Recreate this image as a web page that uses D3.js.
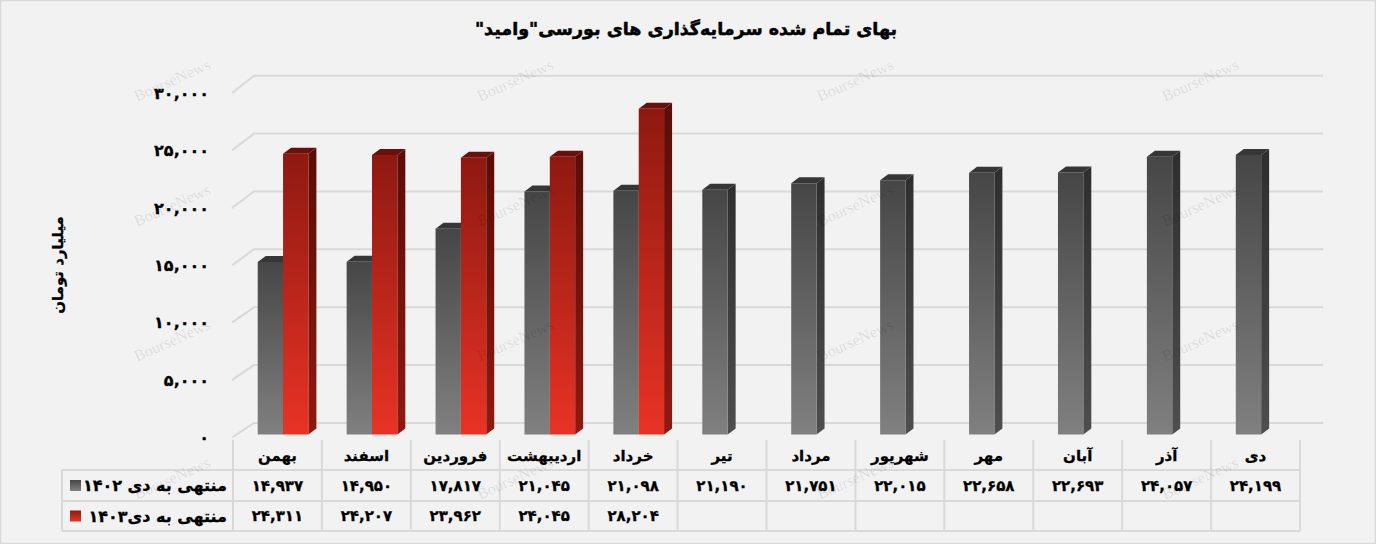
<!DOCTYPE html>
<html><head><meta charset="utf-8">
<script src="https://cdn.jsdelivr.net/npm/d3@7/dist/d3.min.js"></script>
<style>
html,body{margin:0;padding:0;background:#f2f2f2;}
svg{display:block;}
text{font-family:"DejaVu Sans",sans-serif;}
</style></head>
<body>
<svg id="chart" width="1376" height="544"></svg>
<script>
const categories = ["بهمن","اسفند","فروردین","اردیبهشت","خرداد","تیر","مرداد","شهریور","مهر","آبان","آذر","دی"];
const series1402 = [14937,14950,17817,21045,21098,21190,21751,22015,22658,22693,24057,24199];
const series1403 = [24311,24207,23962,24045,28204,null,null,null,null,null,null,null];
const seriesKeys = ["s1402","s1403"];
const seriesNames = ["منتهی به دی ۱۴۰۲","منتهی به دی۱۴۰۳"];
const yTicks = [0,5000,10000,15000,20000,25000,30000];
const titleText = "بهای تمام شده سرمایه‌گذاری های بورسی\"وامید\"";
const yTitle = "میلیارد تومان";

const faDigits = "۰۱۲۳۴۵۶۷۸۹";
const fmt = d3.format(",");
const toFa = v => fmt(v).replace(/[0-9]/g, d => faDigits[+d]);

const svg = d3.select("#chart");
const W = 1376, H = 544;

svg.append("rect").attr("x",0.5).attr("y",0.5).attr("width",W-1).attr("height",H-1)
  .attr("fill","#f2f2f2").attr("stroke","#d9d9d9").attr("stroke-width",1.5);

const defs = svg.append("defs");
function grad(id, c1, c2){
  const g = defs.append("linearGradient").attr("id",id).attr("x1",0).attr("y1",0).attr("x2",0).attr("y2",1);
  g.append("stop").attr("offset","0%").attr("stop-color",c1);
  g.append("stop").attr("offset","100%").attr("stop-color",c2);
}
grad("gFront","#464646","#808080");
grad("gSide","#2e2e2e","#4e4e4e");
grad("rFront","#8e1911","#e83325");
grad("rSide","#5a0d07","#8f1a11");
const caps = {s1402:"#363636", s1403:"#6a0f09"};
const fronts = {s1402:"url(#gFront)", s1403:"url(#rFront)"};
const sides = {s1402:"url(#gSide)", s1403:"url(#rSide)"};

// scales
const x = d3.scaleBand().domain(categories).range([233,1300]);
const bw = x.bandwidth();
const xSub = d3.scaleBand().domain(seriesKeys).range([bw*0.278, bw*0.848]);
const yFront = d3.scaleLinear().domain([0,30000]).range([437.5,93]);
const yBack = d3.scaleLinear().domain([0,30000]).range([423,75.7]);
const yBar = d3.scaleLinear().domain([0,30000]).range([434.5,88]);
const backL = 254, backR = 1323, frontL = 232;
const dx = 8, dy = 6;

// gridlines
const grid = svg.append("g").attr("stroke","#d9d9d9").attr("stroke-width",2).attr("fill","none");
grid.selectAll("path").data(yTicks).join("path")
  .attr("d", v => `M${frontL},${yFront(v)}L${backL},${yBack(v)}H${backR}`);

// y tick labels
svg.append("g").selectAll("text").data(yTicks).join("text")
  .attr("x",209).attr("y",v=>yFront(v)).attr("dy","0.36em")
  .attr("text-anchor","end").attr("direction","ltr")
  .attr("font-size",16).attr("font-weight","bold").attr("letter-spacing",2.6).attr("fill","#000")
  .attr("stroke","#000").attr("stroke-width",0.3)
  .text(v=>toFa(v));

// y title
svg.append("text").attr("transform","translate(63,265) rotate(-90)")
  .attr("text-anchor","middle").attr("direction","rtl")
  .attr("font-size",15).attr("font-weight","bold").attr("fill","#000")
  .attr("stroke","#000").attr("stroke-width",0.3).text(yTitle);

// title
svg.append("text").attr("x",686).attr("y",35).attr("text-anchor","middle").attr("direction","rtl")
  .attr("font-size",17.5).attr("font-weight","bold").attr("fill","#000")
  .attr("stroke","#000").attr("stroke-width",0.5).text(titleText);

// bars
const barData = [];
categories.forEach((c,i)=>{
  [series1402[i], series1403[i]].forEach((v,j)=>{
    if (v != null) barData.push({c, key:seriesKeys[j], v});
  });
});
const bars = svg.append("g");
barData.forEach(d=>{
  const x0 = x(d.c) + xSub(d.key), x1 = x0 + xSub.bandwidth();
  const yt = yBar(d.v), yb = yBar(0);
  const g = bars.append("g");
  g.append("path").attr("fill",sides[d.key])
    .attr("d",`M${x1},${yt}L${x1+dx},${yt-dy}V${yb-dy}L${x1},${yb}Z`);
  g.append("path").attr("fill",caps[d.key])
    .attr("d",`M${x0},${yt}L${x0+dx},${yt-dy}H${x1+dx}L${x1},${yt}Z`);
  g.append("rect").attr("x",x0).attr("y",yt).attr("width",x1-x0).attr("height",yb-yt)
    .attr("fill",fronts[d.key]);
});

// data table
const tHeadTop = 440, r1 = 470, r2 = 501, r3 = 531, tLeft = 62;
const tbl = svg.append("g").attr("stroke","#d9d9d9").attr("stroke-width",2).attr("fill","none");
const bounds = categories.map(c=>x(c)).concat([x(categories[categories.length-1])+bw]);
tbl.selectAll("line.v").data(bounds).join("line").attr("class","v")
  .attr("x1",d=>d).attr("x2",d=>d).attr("y1",tHeadTop).attr("y2",r3);
tbl.append("line").attr("x1",tLeft).attr("x2",tLeft).attr("y1",r1).attr("y2",r3);
[r1,r2,r3].forEach(yy=>tbl.append("line").attr("x1",tLeft).attr("x2",bounds[bounds.length-1]).attr("y1",yy).attr("y2",yy));

svg.append("g").selectAll("text").data(categories).join("text")
  .attr("x",c=>x(c)+bw/2).attr("y",(tHeadTop+r1)/2+1).attr("dy","0.35em")
  .attr("text-anchor","middle").attr("direction","rtl")
  .attr("font-size",15).attr("font-weight","bold").attr("fill","#000")
  .attr("stroke","#000").attr("stroke-width",0.3).text(c=>c);

const rowsY = [(r1+r2)/2, (r2+r3)/2];
[series1402, series1403].forEach((arr,j)=>{
  svg.append("g").selectAll("text").data(categories.map((c,i)=>({c,v:arr[i]})).filter(d=>d.v!=null)).join("text")
    .attr("x",d=>x(d.c)+bw/2).attr("y",rowsY[j]).attr("dy","0.36em")
    .attr("text-anchor","middle").attr("direction","ltr")
    .attr("font-size",15).attr("font-weight","bold").attr("letter-spacing",1.8).attr("fill","#000")
    .attr("stroke","#000").attr("stroke-width",0.3)
    .text(d=>toFa(d.v));
});

// legend keys
seriesNames.forEach((n,j)=>{
  svg.append("rect").attr("x",70).attr("y",rowsY[j]-5.5).attr("width",11).attr("height",11)
    .attr("fill", j===0 ? "url(#gFront)" : "url(#rFront)");
  svg.append("text").attr("x",227).attr("y",rowsY[j]).attr("dy","0.36em")
    .attr("text-anchor","start").attr("direction","rtl")
    .attr("font-size",16).attr("font-weight","bold").attr("fill","#000")
    .attr("stroke","#000").attr("stroke-width",0.3).text(n);
});

// watermarks
const wmX = [172,515,855,1200], wmY = [80,205,340,478];
const wm = svg.append("g").attr("pointer-events","none");
wmY.forEach(yy=>wmX.forEach(xx=>{
  wm.append("text").attr("transform",`translate(${xx},${yy}) rotate(-24)`)
    .attr("text-anchor","middle").attr("dy","0.35em")
    .style("font-family","'Liberation Serif',serif")
    .attr("font-size",16).attr("fill","#000").attr("fill-opacity",0.1).text("BourseNews");
}));
</script>
</body></html>
